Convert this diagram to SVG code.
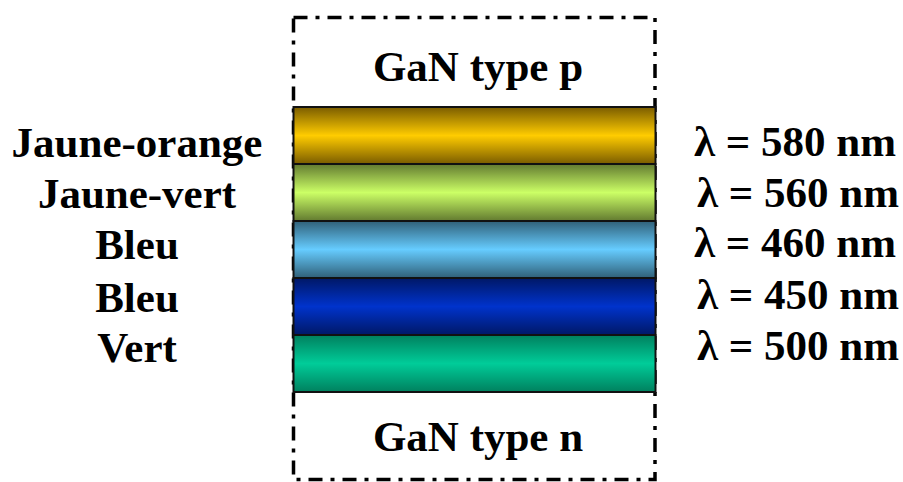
<svg xmlns="http://www.w3.org/2000/svg" width="903" height="482" viewBox="0 0 903 482">
<style>
.t{font-family:"Liberation Serif","Times New Roman",serif;font-weight:bold;font-size:43px;fill:#000}
.l{text-anchor:middle}
.layer{stroke:#111;stroke-width:2}
.frame{fill:none;stroke:#000;stroke-width:3.5;stroke-dasharray:14 8 4 8}
</style>
<defs>
<linearGradient id="gOr" x1="0" y1="0" x2="0" y2="1"><stop offset="0" stop-color="#7a5c00"/><stop offset="0.5" stop-color="#ffcc00"/><stop offset="1" stop-color="#7a5c00"/></linearGradient>
<linearGradient id="gJv" x1="0" y1="0" x2="0" y2="1"><stop offset="0" stop-color="#627a30"/><stop offset="0.5" stop-color="#ccff66"/><stop offset="1" stop-color="#627a30"/></linearGradient>
<linearGradient id="gBl" x1="0" y1="0" x2="0" y2="1"><stop offset="0" stop-color="#306078"/><stop offset="0.5" stop-color="#66ccff"/><stop offset="1" stop-color="#306078"/></linearGradient>
<linearGradient id="gBd" x1="0" y1="0" x2="0" y2="1"><stop offset="0" stop-color="#001866"/><stop offset="0.5" stop-color="#0033cc"/><stop offset="1" stop-color="#001866"/></linearGradient>
<linearGradient id="gVe" x1="0" y1="0" x2="0" y2="1"><stop offset="0" stop-color="#00805e"/><stop offset="0.5" stop-color="#00cc99"/><stop offset="1" stop-color="#00805e"/></linearGradient>
</defs>
<rect width="903" height="482" fill="#fff"/>
<g id="frame">
<rect class="frame" x="293.5" y="17.5" width="361.5" height="462"/>
</g>
<g id="gan-p"><text class="t l" x="478" y="81">GaN type p</text></g>
<g id="gan-n"><text class="t l" x="478" y="451">GaN type n</text></g>
<g id="layer-jaune-orange">
<rect class="layer" x="293.5" y="107" width="362" height="57" fill="url(#gOr)"/>
<text class="t l" x="137" y="157">Jaune-orange</text>
<text class="t" x="694" y="156">λ = 580 nm</text>
</g>
<g id="layer-jaune-vert">
<rect class="layer" x="293.5" y="164" width="362" height="57" fill="url(#gJv)"/>
<text class="t l" x="137" y="208">Jaune-vert</text>
<text class="t" x="697" y="207">λ = 560 nm</text>
</g>
<g id="layer-bleu1">
<rect class="layer" x="293.5" y="221" width="362" height="57" fill="url(#gBl)"/>
<text class="t l" x="137" y="259">Bleu</text>
<text class="t" x="694" y="257">λ = 460 nm</text>
</g>
<g id="layer-bleu2">
<rect class="layer" x="293.5" y="278" width="362" height="57" fill="url(#gBd)"/>
<text class="t l" x="137" y="312">Bleu</text>
<text class="t" x="697" y="309">λ = 450 nm</text>
</g>
<g id="layer-vert">
<rect class="layer" x="293.5" y="335" width="362" height="57" fill="url(#gVe)"/>
<text class="t l" x="137" y="362">Vert</text>
<text class="t" x="697" y="360">λ = 500 nm</text>
</g>
<g id="connectors"></g>
</svg>
